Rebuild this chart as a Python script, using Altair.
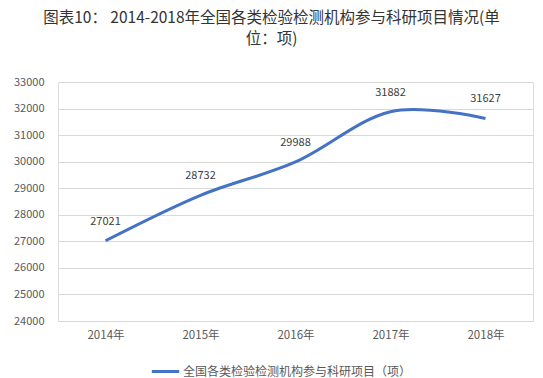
import altair as alt
import pandas as pd

years = ["2014年", "2015年", "2016年", "2017年", "2018年"]
values = [27021, 28732, 29988, 31882, 31627]
series_name = "全国各类检验检测机构参与科研项目（项）"
title_lines = ["图表10： 2014-2018年全国各类检验检测机构参与科研项目情况(单", "位：项)"]
y_ticks = [24000, 25000, 26000, 27000, 28000, 29000, 30000, 31000, 32000, 33000]

df = pd.DataFrame({"year": years, "value": values, "series": [series_name] * len(years)})

FONT = "Noto Sans CJK SC"
LABEL_COLOR = "#595959"
LINE_COLOR = "#4472C4"

x = alt.X("year:N", sort=years, title=None,
          scale=alt.Scale(type="point", padding=0.5),
          axis=alt.Axis(labelAngle=0, ticks=False, domain=True, domainColor="#d9d9d9",
                        grid=False, labelColor=LABEL_COLOR, labelFontSize=11.5,
                        labelFont=FONT, labelPadding=8))
y = alt.Y("value:Q", title=None,
          scale=alt.Scale(domain=[24000, 33000], nice=False, zero=False),
          axis=alt.Axis(values=y_ticks, ticks=False, domain=False, grid=True,
                        gridColor="#d9d9d9", labelColor=LABEL_COLOR, labelFontSize=11,
                        labelFont=FONT, labelPadding=14, format="d",
                        labelOverlap=False, labelBound=False))

base = alt.Chart(df).encode(x=x, y=y)

line = base.mark_line(interpolate="cardinal", strokeWidth=3).encode(
    color=alt.Color("series:N", scale=alt.Scale(range=[LINE_COLOR]),
                    legend=alt.Legend(title=None, orient="none", legendX=92, legendY=274,
                                      symbolType="stroke", symbolStrokeWidth=3,
                                      symbolSize=750, labelFont=FONT, labelFontSize=12,
                                      labelColor=LABEL_COLOR, labelLimit=400, labelOffset=2))
)

labels = base.mark_text(dy=-19, fontSize=11, font=FONT, color="#404040").encode(
    text=alt.Text("value:Q", format="d")
)

chart = (line + labels).properties(
    width=475, height=239,
    title=alt.TitleParams(text=title_lines, fontSize=15.5, font=FONT, color="#333333",
                          fontWeight="normal", anchor="middle", dx=-24, offset=29,
                          lineHeight=21),
    autosize=alt.AutoSizeParams(type="none"),
    padding={"left": 58, "top": 82, "right": 10, "bottom": 57},
).configure_view(stroke=None).configure(background="white")

chart.save("out.html", embed_options={"renderer": "svg", "actions": False})
